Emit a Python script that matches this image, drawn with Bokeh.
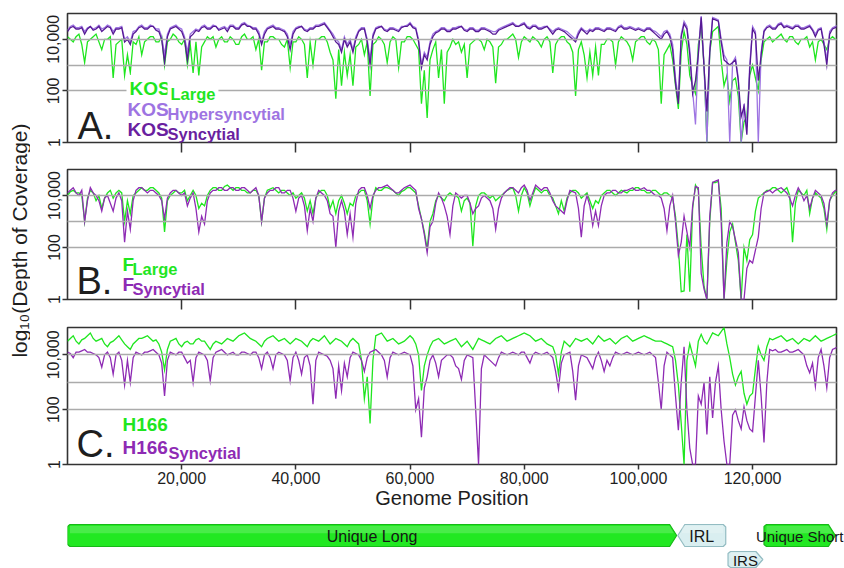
from math import pi
from bokeh.plotting import figure
from bokeh.layouts import column, row
from bokeh.models import (Range1d, FixedTicker, NumeralTickFormatter, Label, ColumnDataSource,
                          CustomLabelingPolicy)
from bokeh.core.properties import value
from bokeh.embed import file_html
from bokeh.resources import INLINE

# ---------------- data (log10 depth of coverage, read every 0.5 kb) ----------------
POS = list(range(0, 136000, 500))

A_LARGE = [
    4.1, 4.0, 3.9, 4.1, 4.2, 3.8, 3.1, 3.9, 4.0, 4.1, 4.2, 3.9, 3.6, 4.0, 4.0, 4.1, 2.5, 3.8, 3.9, 4.0,
    2.6, 3.4, 2.7, 3.9, 3.8, 4.1, 3.4, 3.9, 4.0, 4.1, 4.1, 3.9, 3.9, 4.1, 3.0, 3.9, 4.0, 4.2, 4.1, 3.9,
    3.8, 4.0, 3.0, 3.8, 2.7, 3.9, 2.6, 3.7, 3.9, 4.1, 4.0, 4.1, 3.7, 4.0, 4.1, 3.9, 3.9, 4.1, 4.0, 3.8,
    3.8, 4.1, 4.2, 4.0, 4.0, 4.1, 3.6, 4.0, 2.8, 3.9, 3.9, 4.1, 4.1, 4.0, 4.0, 3.8, 3.7, 4.0, 2.9, 3.9,
    3.9, 4.1, 4.0, 3.8, 2.5, 3.9, 3.0, 4.0, 4.0, 4.1, 4.1, 3.9, 3.5, 3.2, 1.7, 3.6, 2.2, 3.5, 2.6, 3.4,
    2.2, 3.7, 3.8, 4.0, 3.4, 3.9, 1.8, 3.8, 3.9, 4.1, 4.0, 3.8, 3.1, 3.9, 4.1, 4.0, 2.9, 3.9, 3.9, 4.1,
    4.1, 4.0, 3.8, 3.6, 1.5, 2.8, 0.95, 3.2, 3.6, 3.9, 2.5, 3.6, 1.5, 3.5, 3.7, 4.0, 3.8, 3.9, 3.5, 3.8,
    2.5, 3.8, 3.9, 4.0, 4.0, 3.9, 3.6, 4.0, 3.9, 3.7, 2.3, 3.7, 3.8, 4.0, 4.0, 4.1, 4.2, 4.0, 3.3, 3.9,
    4.1, 4.0, 3.9, 4.1, 4.0, 3.9, 3.7, 4.0, 4.1, 3.9, 2.7, 3.8, 4.0, 4.1, 4.1, 3.9, 3.8, 3.5, 1.8, 3.6,
    3.9, 3.4, 2.5, 3.5, 2.6, 3.7, 2.6, 3.8, 3.8, 4.0, 4.0, 3.9, 3.0, 3.9, 4.1, 4.0, 3.9, 3.7, 3.2, 3.9,
    4.0, 4.1, 4.1, 3.9, 3.8, 4.0, 3.9, 3.6, 1.5, 3.4, 3.6, 3.8, 3.2, 2.2, 1.3, 3.5, 4.3, 3.8, 2.6, 2.2,
    1.9, 3.8, 4.5, 3.0, 0.0, 3.5, 4.3, 4.4, 4.5, 3.2, 2.2, 2.6, 1.6, 2.4, 2.5, 1.8, 0.0, 0.8, 1.0, 2.6,
    3.0, 2.5, 2.0, 3.2, 3.9, 4.0, 4.1, 3.9, 4.0, 4.1, 4.2, 4.0, 3.9, 4.1, 4.1, 3.9, 3.8, 4.0, 4.0, 4.1,
    3.7, 3.9, 3.2, 3.9, 4.0, 3.8, 3.6, 4.0, 4.1, 4.0, 4.0, 4.1]

A_HYPER = [
    4.35, 4.5, 4.55, 4.45, 4.45, 4.5, 4.3, 4.45, 4.5, 4.4, 4.45, 4.55, 4.4, 4.45, 4.55, 4.5, 4.3, 4.45, 4.45, 4.5,
    4.0, 4.1, 3.9, 4.3, 4.35, 4.5, 4.55, 4.45, 4.45, 4.55, 4.5, 4.4, 4.4, 4.1, 3.4, 4.2, 4.45, 4.5, 4.55, 4.45,
    4.4, 4.1, 3.5, 4.2, 4.3, 4.4, 4.35, 4.5, 4.55, 4.45, 4.45, 4.55, 4.5, 4.4, 4.45, 4.5, 4.4, 4.55, 4.55, 4.45,
    4.45, 4.6, 4.65, 4.55, 4.5, 4.45, 4.45, 4.3, 3.9, 4.3, 4.45, 4.5, 4.55, 4.45, 4.45, 4.4, 4.35, 4.2, 3.8, 4.3,
    4.45, 4.5, 4.5, 4.4, 4.35, 4.45, 4.45, 4.55, 4.55, 4.6, 4.65, 4.5, 4.35, 4.2, 4.0, 3.9, 3.6, 4.1, 3.8, 4.0,
    3.6, 4.1, 4.35, 4.45, 4.45, 4.0, 3.2, 4.2, 4.45, 4.5, 4.5, 4.4, 4.35, 4.45, 4.45, 4.4, 4.35, 4.5, 4.5, 4.55,
    4.65, 4.5, 4.45, 4.0, 3.0, 3.5, 3.3, 3.9, 4.2, 4.3, 4.35, 4.45, 4.45, 4.35, 4.35, 4.45, 4.45, 4.5, 4.5, 4.4,
    4.35, 4.45, 4.45, 4.35, 4.35, 4.45, 4.45, 4.4, 4.35, 4.3, 4.3, 4.4, 4.45, 4.5, 4.55, 4.6, 4.65, 4.55, 4.5, 4.6,
    4.65, 4.5, 4.45, 4.55, 4.55, 4.45, 4.45, 4.5, 4.5, 4.4, 4.3, 4.4, 4.45, 4.4, 4.35, 4.3, 4.2, 4.1, 4.0, 4.3,
    4.45, 4.35, 4.3, 4.4, 4.35, 4.45, 4.45, 4.4, 4.35, 4.45, 4.45, 4.4, 4.35, 4.5, 4.55, 4.45, 4.45, 4.5, 4.45, 4.4,
    4.45, 4.4, 4.35, 4.45, 4.45, 4.35, 4.3, 4.2, 4.1, 4.3, 4.35, 4.2, 3.8, 2.5, 1.7, 4.2, 4.7, 4.5, 3.6, 2.0,
    0.7, 3.5, 4.9, 3.0, 0.0, 3.6, 4.85, 4.8, 4.75, 4.0, 3.4, 3.2, 0.0, 3.1, 3.3, 2.5, 0.0, 1.5, 0.6, 3.0,
    4.5, 4.3, 0.0, 3.5, 4.35, 4.5, 4.55, 4.45, 4.45, 4.6, 4.65, 4.5, 4.55, 4.5, 4.45, 4.55, 4.55, 4.45, 4.45, 4.5,
    4.55, 4.4, 4.2, 4.4, 4.45, 3.9, 3.2, 4.3, 4.45, 4.5, 4.55, 4.5]

A_SYN = [
    4.3, 4.45, 4.5, 4.4, 4.4, 4.45, 4.2, 4.4, 4.5, 4.35, 4.4, 4.5, 4.3, 4.4, 4.5, 4.45, 4.2, 4.4, 4.4, 4.45,
    3.9, 4.0, 3.8, 4.2, 4.3, 4.45, 4.5, 4.4, 4.4, 4.5, 4.5, 4.35, 4.3, 4.0, 3.1, 4.1, 4.4, 4.45, 4.5, 4.4,
    4.3, 4.0, 3.2, 4.1, 4.2, 4.35, 4.3, 4.45, 4.5, 4.4, 4.4, 4.5, 4.5, 4.35, 4.4, 4.45, 4.3, 4.5, 4.5, 4.4,
    4.4, 4.55, 4.6, 4.5, 4.5, 4.4, 4.4, 4.2, 3.8, 4.2, 4.4, 4.45, 4.5, 4.4, 4.4, 4.35, 4.3, 4.1, 3.6, 4.2,
    4.4, 4.45, 4.5, 4.35, 4.3, 4.4, 4.4, 4.5, 4.5, 4.55, 4.6, 4.45, 4.3, 4.1, 3.9, 3.8, 3.5, 4.0, 3.7, 3.9,
    3.5, 4.0, 4.3, 4.4, 4.4, 3.9, 3.0, 4.1, 4.4, 4.45, 4.5, 4.35, 4.3, 4.4, 4.4, 4.35, 4.3, 4.45, 4.5, 4.5,
    4.6, 4.45, 4.4, 3.9, 2.9, 3.4, 3.2, 3.8, 4.1, 4.25, 4.3, 4.4, 4.4, 4.3, 4.3, 4.4, 4.4, 4.45, 4.5, 4.35,
    4.3, 4.4, 4.4, 4.3, 4.3, 4.4, 4.4, 4.35, 4.3, 4.2, 4.2, 4.35, 4.4, 4.45, 4.5, 4.55, 4.6, 4.5, 4.5, 4.55,
    4.6, 4.45, 4.4, 4.5, 4.5, 4.4, 4.4, 4.45, 4.5, 4.35, 4.2, 4.35, 4.4, 4.35, 4.3, 4.2, 4.1, 4.0, 3.9, 4.2,
    4.4, 4.3, 4.2, 4.35, 4.3, 4.4, 4.4, 4.35, 4.3, 4.4, 4.4, 4.35, 4.3, 4.45, 4.5, 4.4, 4.4, 4.45, 4.4, 4.35,
    4.4, 4.35, 4.3, 4.4, 4.4, 4.3, 4.2, 4.1, 4.0, 4.2, 4.3, 4.1, 3.6, 2.3, 1.5, 4.1, 4.6, 4.4, 3.4, 1.9,
    2.4, 3.4, 4.85, 2.9, 1.2, 3.5, 4.8, 4.75, 4.7, 3.9, 3.2, 3.1, 3.0, 3.1, 3.2, 2.4, 1.0, 1.4, 0.3, 2.8,
    4.4, 4.2, 2.4, 3.4, 4.3, 4.45, 4.5, 4.4, 4.4, 4.55, 4.6, 4.45, 4.5, 4.45, 4.4, 4.5, 4.5, 4.4, 4.4, 4.45,
    4.5, 4.35, 4.1, 4.35, 4.4, 3.8, 3.0, 4.2, 4.4, 4.45, 4.5, 4.45]

B_LARGE = [
    4.0, 4.15, 4.2, 4.1, 4.1, 4.0, 3.0, 3.9, 4.2, 4.1, 3.8, 4.0, 3.5, 3.9, 4.1, 4.2, 3.9, 4.1, 4.2, 4.1,
    3.0, 3.8, 3.3, 4.0, 4.1, 4.2, 4.3, 4.2, 4.2, 4.3, 4.3, 4.2, 4.1, 3.9, 2.6, 3.8, 4.0, 4.1, 4.2, 4.1,
    4.1, 4.2, 3.8, 4.0, 4.2, 4.0, 3.5, 3.7, 3.6, 4.0, 4.2, 4.3, 4.3, 4.2, 4.2, 4.35, 4.4, 4.3, 4.2, 4.3,
    4.3, 4.2, 4.2, 4.1, 4.1, 4.2, 4.2, 4.0, 3.0, 3.9, 4.2, 4.25, 4.3, 4.2, 4.1, 4.2, 4.2, 4.1, 4.0, 4.1,
    3.9, 4.0, 4.1, 3.9, 3.4, 3.8, 3.3, 3.9, 4.1, 4.2, 4.2, 4.0, 3.5, 3.8, 3.3, 3.8, 4.0, 3.7, 3.3, 3.7,
    3.6, 4.0, 4.1, 4.2, 4.2, 3.8, 2.9, 3.9, 4.3, 4.2, 4.2, 4.3, 4.3, 4.25, 4.2, 4.1, 4.0, 4.15, 4.2, 4.3,
    4.3, 4.2, 4.1, 3.6, 3.1, 2.6, 1.95, 3.0, 3.3, 3.8, 4.0, 3.9, 3.8, 4.0, 4.1, 4.0, 4.0, 3.9, 3.4, 3.8,
    3.9, 3.7, 2.05, 3.6, 4.0, 4.1, 4.1, 4.0, 3.9, 4.0, 3.8, 3.9, 4.0, 4.1, 4.2, 4.25, 4.3, 4.0, 3.4, 4.0,
    4.3, 4.1, 3.6, 4.0, 4.3, 4.2, 4.1, 4.2, 4.2, 4.0, 3.9, 3.6, 3.3, 3.8, 3.4, 3.9, 4.1, 4.2, 4.2, 4.1,
    3.9, 4.0, 4.1, 3.8, 3.5, 3.8, 3.7, 4.0, 4.1, 4.2, 4.2, 4.1, 4.0, 4.1, 4.2, 4.15, 4.1, 4.2, 4.2, 4.3,
    4.3, 4.2, 4.2, 4.1, 4.1, 4.2, 4.2, 4.1, 4.0, 4.1, 4.1, 4.0, 3.9, 3.2, 2.0, 0.3, 0.33, 2.5, 0.3, 3.5,
    4.4, 4.2, 2.0, 0.5, 0.0, 3.0, 4.5, 4.5, 4.55, 3.5, 0.0, 1.5, 2.6, 2.9, 2.2, 1.5, 0.0, 2.0, 1.5, 2.3,
    2.5, 3.4, 3.9, 4.0, 4.1, 4.2, 4.2, 4.3, 4.3, 4.2, 4.1, 4.2, 4.3, 4.0, 2.2, 3.7, 4.2, 4.1, 4.0, 4.2,
    3.3, 3.9, 4.1, 4.0, 3.9, 3.5, 2.7, 3.8, 4.0, 4.15, 4.1, 4.2]

B_SYN = [
    4.1, 4.2, 4.3, 4.1, 4.0, 4.2, 3.0, 3.8, 4.3, 4.1, 4.0, 3.8, 3.4, 3.9, 4.0, 3.7, 3.4, 3.9, 4.1, 3.8,
    2.2, 3.4, 2.7, 3.8, 4.2, 4.3, 4.3, 4.2, 4.1, 4.2, 4.2, 4.1, 4.0, 3.8, 3.1, 3.9, 4.1, 4.2, 4.2, 4.1,
    4.0, 4.1, 3.6, 3.9, 4.1, 3.5, 2.6, 3.2, 2.9, 3.8, 4.1, 4.2, 4.2, 4.3, 4.3, 4.2, 4.2, 4.3, 4.3, 4.2,
    4.2, 4.3, 4.3, 4.2, 4.1, 4.2, 4.3, 4.0, 3.0, 3.9, 4.1, 4.2, 4.2, 4.3, 4.3, 4.1, 4.1, 4.2, 4.2, 3.9,
    3.4, 3.9, 4.0, 3.6, 2.65, 3.5, 3.0, 3.9, 4.2, 4.1, 4.0, 3.8, 3.3, 3.2, 2.0, 3.4, 3.8, 3.4, 2.5, 3.3,
    2.4, 3.7, 4.2, 4.3, 4.3, 4.0, 3.5, 4.0, 4.2, 4.3, 4.3, 4.35, 4.4, 4.3, 4.2, 4.1, 4.1, 4.2, 4.3, 4.35,
    4.4, 4.3, 4.2, 3.5, 3.1, 2.5, 1.8, 2.8, 3.0, 3.7, 4.1, 3.9, 3.6, 3.2, 2.5, 3.6, 4.1, 4.0, 3.9, 4.0,
    4.0, 3.7, 3.3, 3.5, 3.6, 3.9, 4.0, 3.9, 3.8, 3.5, 2.7, 3.5, 3.9, 4.1, 4.2, 4.3, 4.3, 4.2, 4.1, 4.3,
    4.4, 4.2, 3.8, 4.1, 4.4, 4.3, 4.2, 4.3, 4.3, 4.1, 3.8, 3.6, 3.5, 3.4, 3.3, 3.8, 4.2, 4.15, 4.1, 3.5,
    2.4, 3.6, 4.0, 3.6, 2.85, 3.4, 2.85, 3.6, 4.0, 4.1, 4.1, 4.2, 4.2, 4.1, 4.1, 4.2, 4.2, 4.25, 4.3, 4.2,
    4.2, 4.25, 4.3, 4.2, 4.2, 4.1, 4.0, 4.0, 3.9, 3.5, 2.65, 3.6, 4.0, 3.0, 1.7, 2.2, 3.2, 2.6, 2.0, 3.6,
    4.35, 4.3, 1.0, 0.4, 0.0, 3.2, 4.5, 4.55, 4.6, 3.0, 0.0, 2.2, 3.0, 2.8, 2.3, 1.8, 0.0, 0.0, 1.2, 1.5,
    1.4, 1.9, 2.4, 3.5, 4.1, 4.15, 4.2, 4.1, 4.2, 4.25, 4.3, 4.2, 4.1, 3.9, 3.6, 4.0, 4.3, 4.1, 3.8, 4.0,
    3.5, 3.9, 4.2, 4.1, 4.0, 3.7, 2.9, 3.8, 4.1, 4.2, 4.2, 4.15]

C_H166 = [
    4.5, 4.6, 4.7, 4.5, 4.4, 4.55, 4.6, 4.7, 4.8, 4.6, 4.5, 4.55, 4.6, 4.4, 4.3, 4.45, 4.5, 4.6, 4.7, 4.55,
    4.4, 4.3, 4.2, 4.4, 4.5, 4.6, 4.6, 4.65, 4.7, 4.6, 4.5, 4.55, 4.4, 4.1, 3.45, 4.2, 4.5, 4.55, 4.6, 4.4,
    4.3, 4.45, 4.5, 4.4, 4.4, 4.55, 4.6, 4.5, 4.5, 4.35, 4.2, 4.4, 4.5, 4.45, 4.4, 4.5, 4.6, 4.55, 4.5, 4.6,
    4.7, 4.75, 4.8, 4.7, 4.6, 4.55, 4.5, 4.4, 4.3, 4.5, 4.6, 4.65, 4.7, 4.6, 4.5, 4.55, 4.6, 4.5, 4.4, 4.5,
    4.6, 4.55, 4.5, 4.4, 4.3, 4.5, 4.6, 4.55, 4.5, 4.6, 4.7, 4.55, 4.4, 4.5, 4.6, 4.55, 4.5, 4.4, 4.3, 4.5,
    4.6, 4.5, 4.4, 3.8, 2.4, 3.2, 1.5, 3.8, 4.7, 4.75, 4.8, 4.65, 4.5, 4.55, 4.6, 4.5, 4.4, 4.45, 4.5, 4.6,
    4.7, 4.6, 4.4, 4.0, 2.7, 3.6, 4.0, 4.3, 4.5, 4.55, 4.6, 4.5, 4.4, 4.45, 4.5, 4.55, 4.6, 4.45, 4.3, 4.4,
    4.5, 4.35, 4.2, 4.4, 4.6, 4.55, 4.5, 4.45, 4.4, 4.5, 4.6, 4.65, 4.7, 4.6, 4.5, 4.55, 4.6, 4.65, 4.7, 4.75,
    4.8, 4.75, 4.7, 4.6, 4.5, 4.55, 4.6, 4.5, 4.4, 4.35, 4.3, 4.0, 3.3, 4.1, 4.5, 4.4, 4.3, 4.45, 4.6, 4.55,
    4.5, 4.55, 4.6, 4.5, 4.4, 4.55, 4.7, 4.6, 4.5, 4.55, 4.6, 4.5, 4.4, 4.5, 4.6, 4.65, 4.7, 4.6, 4.5, 4.55,
    4.6, 4.65, 4.7, 4.65, 4.6, 4.55, 4.5, 4.5, 4.5, 4.45, 4.4, 4.35, 4.3, 3.8, 2.9, 1.5, 0.0, 3.8, 4.4, 4.0,
    3.6, 4.5, 4.75, 4.5, 4.4, 4.6, 4.8, 4.75, 4.7, 4.85, 5.0, 4.4, 3.9, 3.3, 2.9, 3.2, 3.4, 2.6, 2.2, 2.5,
    2.6, 3.5, 4.3, 4.0, 3.8, 4.3, 4.6, 4.55, 4.6, 4.65, 4.7, 4.6, 4.5, 4.55, 4.6, 4.5, 4.4, 4.5, 4.6, 4.55,
    4.5, 4.6, 4.7, 4.6, 4.5, 4.55, 4.6, 4.65, 4.7, 4.75, 4.8, 4.7]

C_SYN = [
    4.1, 4.05, 3.9, 4.1, 4.1, 4.15, 4.2, 4.1, 4.1, 4.05, 4.0, 3.9, 3.55, 4.0, 4.1, 3.9, 3.3, 4.0, 4.1, 3.8,
    2.9, 3.8, 3.0, 3.9, 4.1, 4.05, 4.0, 4.1, 4.1, 4.15, 4.2, 4.1, 4.0, 3.7, 2.5, 3.8, 4.1, 4.05, 4.0, 4.1,
    4.1, 3.9, 3.7, 3.8, 3.0, 3.9, 4.1, 4.05, 4.0, 3.8, 3.05, 3.9, 4.1, 4.15, 4.2, 4.1, 4.0, 4.05, 4.1, 4.0,
    4.0, 4.1, 4.1, 4.05, 4.0, 4.1, 4.1, 3.9, 3.5, 4.0, 4.1, 3.9, 3.5, 4.0, 4.1, 4.05, 4.0, 3.8, 3.05, 3.9,
    4.1, 3.8, 3.3, 3.9, 4.0, 3.6, 2.2, 3.8, 4.1, 4.05, 4.0, 3.95, 3.8, 3.5, 2.4, 3.6, 2.7, 3.7, 3.2, 3.9,
    4.1, 4.05, 4.0, 3.8, 3.4, 3.9, 4.1, 4.15, 4.2, 4.1, 4.0, 3.8, 3.2, 3.9, 4.1, 4.05, 4.0, 4.05, 4.1, 4.05,
    4.0, 3.6, 2.0, 2.4, 1.0, 2.8, 3.2, 3.8, 4.0, 3.7, 3.2, 3.8, 3.9, 4.0, 4.0, 3.9, 3.6, 3.5, 3.1, 3.8,
    4.0, 3.95, 3.9, 2.0, 0.0, 3.5, 4.0, 3.9, 3.8, 3.7, 3.6, 3.9, 4.1, 4.05, 4.0, 4.05, 4.1, 4.05, 4.0, 4.1,
    4.1, 3.9, 3.7, 4.0, 4.1, 4.05, 4.0, 4.05, 4.1, 4.0, 3.9, 3.4, 2.75, 3.7, 4.0, 4.05, 4.1, 3.4, 2.35, 3.6,
    4.0, 3.95, 3.9, 3.7, 3.5, 3.9, 4.1, 3.8, 3.4, 3.8, 3.6, 3.9, 4.1, 4.05, 4.0, 4.05, 4.1, 4.05, 4.0, 4.05,
    4.1, 4.05, 4.0, 4.05, 4.1, 4.0, 3.9, 3.0, 2.0, 3.6, 4.1, 4.0, 3.9, 2.5, 1.25, 3.0, 4.3, 2.0, 0.6, 0.0,
    0.0, 2.5, 2.2, 3.0, 1.1, 3.2, 1.7, 3.0, 3.6, 2.0, 0.85, 0.0, 0.0, 1.8, 2.0, 1.6, 1.3, 2.1, 1.6, 1.3,
    1.2, 2.5, 3.8, 2.5, 0.8, 3.0, 4.2, 4.15, 4.2, 4.1, 4.1, 4.15, 4.2, 4.1, 4.1, 4.15, 4.2, 4.1, 4.0, 3.6,
    3.35, 3.7, 2.85, 3.9, 4.2, 3.6, 2.8, 3.9, 4.2, 4.25, 4.3, 4.2]

Y_TICKS = [1, 100, 10000]
GRID_LEVELS = [100, 1000, 10000]
X_TICKS = [20000, 40000, 60000, 80000, 100000, 120000]

REGION_NAMES = ["Unique Long", "IRL", "IRS", "Unique Short"]
REGION_START = [0, 106900, 115700, 122000]
REGION_END = [106700, 115300, 121800, 134500]
REGION_ROW = [0, 0, 1, 0]
REGION_DIR = ["right", "left", "right", "right"]

# ---------------- styling / geometry ----------------
FONT = "Liberation Sans"
TOTAL_W = 844
LABEL_W = 30
PW = TOTAL_W - LABEL_W
BL = 67 - LABEL_W
BR = 8
FRAME_L = 67
FRAME_W = TOTAL_W - 67 - BR
X_END = 134700
GREEN = "#1FE61F"
LILAC = "#9E74E2"
PURPLE_A = "#561894"
PURPLE = "#8E2BB4"
FRAME_C = "#333333"
GRID_C = "#ABABAB"
TEXT_C = "#1e1e1e"
BASELINE_FIX = 0.16


def lx(px):
    return (px - FRAME_L) / FRAME_W * X_END


def ly(py, bottom, dec):
    return 10 ** ((bottom - py) / dec)


def make_panel(height, top, bottom, last):
    p = figure(width=PW, height=height, x_range=Range1d(0, X_END),
               y_range=Range1d(1, 100000), y_axis_type="log",
               output_backend="svg", toolbar_location=None,
               min_border_left=BL, min_border_right=BR,
               min_border_top=top, min_border_bottom=bottom)
    p.outline_line_color = FRAME_C
    p.outline_line_width = 1.6
    p.outline_line_alpha = 1.0
    p.xgrid.visible = False
    p.ygrid.ticker = FixedTicker(ticks=GRID_LEVELS)
    p.ygrid.grid_line_color = GRID_C
    p.ygrid.grid_line_width = 1.5
    p.ygrid.level = "guide"

    ya = p.yaxis[0]
    ya.ticker = FixedTicker(ticks=Y_TICKS)
    ya.formatter = NumeralTickFormatter(format="0,0")
    ya.major_label_orientation = "vertical"
    ya.major_label_text_font = FONT
    ya.major_label_text_font_size = "16px"
    ya.major_label_text_color = TEXT_C
    ya.major_label_standoff = 3
    ya.major_tick_out = 5
    ya.major_tick_in = 0
    ya.minor_tick_out = 0
    ya.minor_tick_in = 0
    ya.major_tick_line_color = FRAME_C
    ya.major_tick_line_width = 1.5
    ya.axis_line_color = None

    xa = p.xaxis[0]
    xa.ticker = FixedTicker(ticks=X_TICKS)
    xa.formatter = NumeralTickFormatter(format="0,0")
    xa.major_tick_in = 0
    xa.minor_tick_out = 0
    xa.minor_tick_in = 0
    xa.major_tick_line_color = FRAME_C
    xa.major_tick_line_width = 1.5
    xa.axis_line_color = None
    xa.major_label_text_font = FONT
    if last:
        xa.major_tick_out = 5
        xa.major_label_text_font_size = "16px"
        xa.major_label_text_color = TEXT_C
        xa.major_label_standoff = 2
        xa.axis_label = "Genome Position"
        xa.axis_label_text_font = FONT
        xa.axis_label_text_font_size = "20px"
        xa.axis_label_text_font_style = "normal"
        xa.axis_label_text_color = TEXT_C
        xa.axis_label_standoff = 0
    else:
        xa.major_tick_out = 10
        xa.major_label_standoff = 0
        xa.major_label_policy = CustomLabelingPolicy(code="return new Set()")
    return p


def add_series(p, values, color, width=1.3):
    src = ColumnDataSource(dict(x=POS, y=[10 ** v for v in values]))
    p.line("x", "y", source=src, line_color=color, line_width=width, line_join="miter")


def add_text(p, txt, px, py, bottom, dec, size, color, bold=True, bg=None):
    lab = Label(x=lx(px), y=ly(py - BASELINE_FIX * size, bottom, dec), text=txt, text_font=FONT,
                text_font_size=f"{size}px", text_color=color,
                text_baseline="alphabetic",
                text_font_style="bold" if bold else "normal")
    if bg is not None:
        lab.background_fill_color = bg
        lab.padding = 3
    p.add_layout(lab)


# ---------------- panel A ----------------
DEC_A = 136 / 5
pa = make_panel(163, 13, 14, False)
add_series(pa, A_LARGE, GREEN)
add_series(pa, A_HYPER, LILAC)
add_series(pa, A_SYN, PURPLE_A)
add_text(pa, "A.", 77, 138, 149, DEC_A, 38, TEXT_C, bold=False)
add_text(pa, "KOS", 126, 95, 149, DEC_A, 19, GREEN, bg="white")
add_text(pa, "Large", 167, 100, 149, DEC_A, 16.5, GREEN, bg="white")
add_text(pa, "KOS", 127, 117, 149, DEC_A, 19, LILAC)
add_text(pa, "Hypersyncytial", 167, 122, 149, DEC_A, 16.5, LILAC)
add_text(pa, "KOS", 127, 138, 149, DEC_A, 19, "#6A1F9F")
add_text(pa, "Syncytial", 167, 143, 149, DEC_A, 16.5, "#6A1F9F")

# ---------------- panel B ----------------
DEC_B = 137 / 5
pb = make_panel(157, 6, 14, False)
add_series(pb, B_LARGE, GREEN)
add_series(pb, B_SYN, PURPLE)
add_text(pb, "B.", 76, 293, 306, DEC_B, 38, TEXT_C, bold=False)
add_text(pb, "F", 122, 272, 306, DEC_B, 19, GREEN)
add_text(pb, "Large", 132, 277, 306, DEC_B, 16.5, GREEN)
add_text(pb, "F", 122, 293, 306, DEC_B, 19, PURPLE)
add_text(pb, "Syncytial", 132, 298, 306, DEC_B, 16.5, PURPLE)

# ---------------- panel C ----------------
DEC_C = 137 / 5
pc = make_panel(192, 7, 48, True)
add_series(pc, C_H166, GREEN)
add_series(pc, C_SYN, PURPLE)
add_text(pc, "C.", 76, 450, 464, DEC_C, 38, TEXT_C, bold=False)
add_text(pc, "H166", 122, 427, 464, DEC_C, 19, GREEN)
add_text(pc, "H166", 122, 450, 464, DEC_C, 19, PURPLE)
add_text(pc, "Syncytial", 168, 455, 464, DEC_C, 16.5, PURPLE)

# ---------------- shared y-axis title ----------------
PANELS_H = 163 + 157 + 192
lab_fig = figure(width=LABEL_W, height=PANELS_H, x_range=Range1d(0, LABEL_W),
                 y_range=Range1d(0, PANELS_H), output_backend="svg", toolbar_location=None,
                 x_axis_location=None, y_axis_location=None,
                 min_border_left=0, min_border_right=0, min_border_top=0, min_border_bottom=0)
lab_fig.outline_line_color = None
lab_fig.grid.visible = False
lab_fig.add_layout(Label(x=19, y=PANELS_H - 240, text="log\u2081\u2080(Depth of Coverage)",
                         angle=pi / 2, text_align="center", text_baseline="middle",
                         text_font=FONT, text_font_size="21px", text_color=TEXT_C))

# ---------------- genome map ----------------
MAP_H = 568 - PANELS_H
MAP_X_END = X_END * (TOTAL_W - FRAME_L) / FRAME_W
m = figure(width=TOTAL_W, height=MAP_H, x_range=Range1d(0, MAP_X_END), y_range=Range1d(MAP_H, 0),
           output_backend="svg", toolbar_location=None,
           x_axis_location=None, y_axis_location=None,
           min_border_left=FRAME_L, min_border_right=0, min_border_top=0, min_border_bottom=0)
m.outline_line_color = None
m.grid.visible = False

ROW_TOP = [12, 39]
ROW_HEIGHT = [22, 16]
TIP = 7 * X_END / FRAME_W
CORNER = 2.5 * X_END / FRAME_W
xs, ys, fills, lines, tx, ty, tsz = [], [], [], [], [], [], []
hx, hy = [], []
for name, s, e, rw, d in zip(REGION_NAMES, REGION_START, REGION_END, REGION_ROW, REGION_DIR):
    t = ROW_TOP[rw]
    b = t + ROW_HEIGHT[rw]
    mid = (t + b) / 2
    hh = ROW_HEIGHT[rw] * 0.4
    if d == "right":
        xs.append([s + CORNER, e - TIP, e, e - TIP, s + CORNER, s, s])
        ys.append([t, t, mid, b, b, b - 2, t + 2])
        hx.append([s + CORNER, e - TIP, e - TIP * 0.4, s + CORNER])
    else:
        xs.append([s, s + TIP, e - CORNER, e, e, e - CORNER, s + TIP])
        ys.append([mid, t, t, t + 2.5, b - 2.5, b, b])
        hx.append([s + TIP * 0.6, e - CORNER, e - CORNER, s + TIP * 0.6])
    hy.append([t + 1.5, t + 1.5, t + hh, t + hh])
    green = name.startswith("Unique")
    fills.append("#22E822" if green else "#D9EEF0")
    lines.append("#17B817" if green else "#93BCC2")
    tx.append((s + e) / 2)
    ty.append(mid + 1)
    tsz.append("15px" if name == "Unique Short" else ("16px" if rw == 0 else "15px"))

msrc = ColumnDataSource(dict(xs=xs, ys=ys, fill=fills, line=lines))
m.patches("xs", "ys", source=msrc, fill_color="fill", line_color="line", line_width=1.2)
m.patches(hx, hy, fill_color="white", fill_alpha=0.18, line_color=None)
tsrc = ColumnDataSource(dict(x=tx, y=ty, text=REGION_NAMES, size=tsz))
m.text("x", "y", text="text", source=tsrc, text_font=value(FONT), text_font_size="size",
       text_align="center", text_baseline="middle", text_color="#161616")

layout = column(row(lab_fig, column(pa, pb, pc, spacing=0), spacing=0), m, spacing=0)
open("out.html", "w").write(file_html(layout, INLINE))
